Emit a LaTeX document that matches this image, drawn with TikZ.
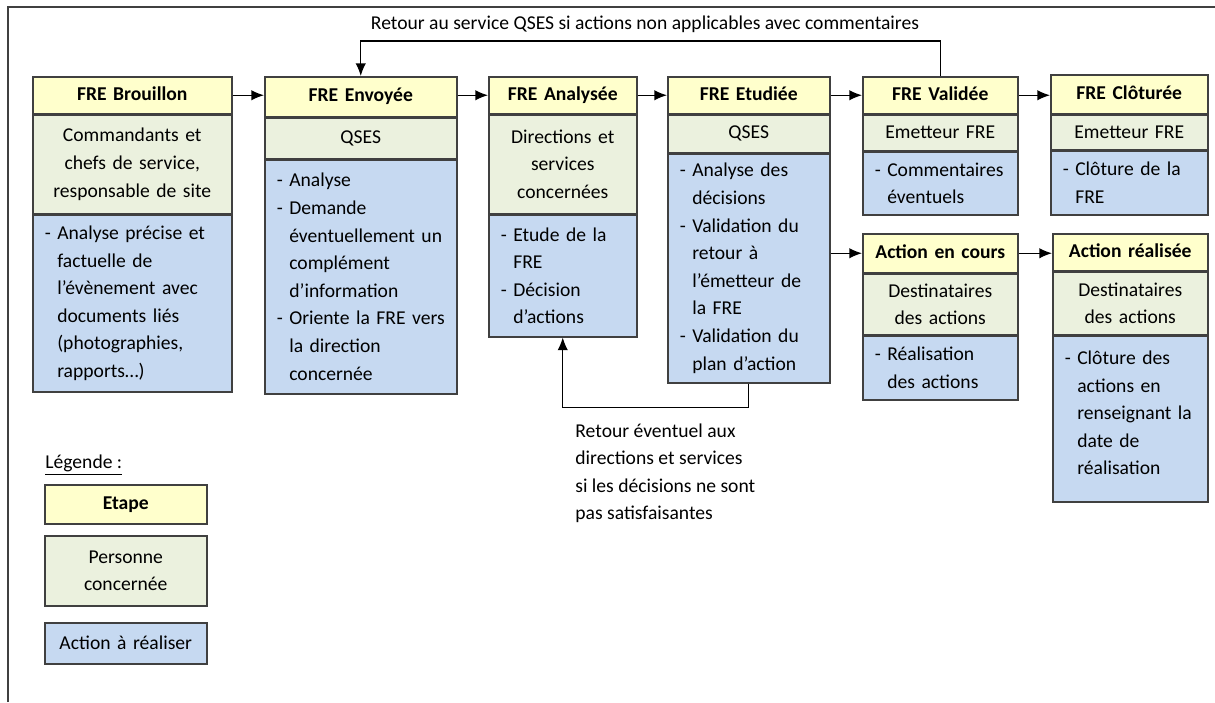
\documentclass[tikz,border=0pt]{standalone}
\usepackage{fontspec}
\setmainfont{Carlito}
\usepackage{tikz}
\usetikzlibrary{arrows.meta,positioning}
\definecolor{cetape}{RGB}{255,255,204}
\definecolor{cpers}{RGB}{235,241,222}
\definecolor{cact}{RGB}{198,217,241}
\definecolor{cbord}{RGB}{64,64,64}
\newcommand{\tiret}{-~}
\newcommand{\retrait}{\hphantom{-~}}

\begin{document}
\begin{tikzpicture}[
  x=0.5pt, y=-0.5pt,
  font=\fontsize{9.8}{13.8}\selectfont,
  boite/.style={draw=cbord, line width=0.75pt, inner xsep=6pt, inner ysep=2pt},
  etape/.style={boite, fill=cetape, font=\fontsize{9.8}{13.8}\selectfont\bfseries, align=center, text height=7pt, text depth=2.2pt},
  personne/.style={boite, fill=cpers, align=center},
  actionbox/.style={boite, fill=cact, align=left},
  fleche/.style={-{Latex[length=2.2mm,width=1.8mm]}, line width=0.6pt},
]
\useasboundingbox (0,0) rectangle (1215,702);
\draw[cbord, line width=1pt] (8,702) -- (8,7) -- (1215,7);

% FRE Brouillon
\node[etape, text width=87.5pt, minimum height=18.5pt, anchor=north west] (bro) at (32,76) {FRE Brouillon};
\node[personne, text width=87.5pt, minimum height=49pt, below=0pt of bro] (broP) {Commandants et\\chefs de service,\\responsable de site};
\node[actionbox, text width=87.5pt, minimum height=88.5pt, below=0pt of broP] (broA) {\tiret Analyse~précise~et\\\retrait factuelle~de\\\retrait l’évènement~avec\\\retrait documents~liés\\\retrait (photographies,\\\retrait rapports…)};

% FRE Envoyee
\node[etape, text width=84pt, minimum height=20pt, anchor=north west] (env) at (264,76) {FRE Envoyée};
\node[personne, text width=84pt, minimum height=20pt, below=0pt of env] (envP) {QSES};
\node[actionbox, text width=84pt, minimum height=117pt, below=0pt of envP] (envA) {\tiret Analyse\\\tiret Demande\\\retrait \mbox{éventuellement un}\\\retrait complément\\\retrait d’information\\\mbox{\tiret Oriente la FRE vers}\\\retrait la~direction\\\retrait concernée};

% FRE Analysee
\node[etape, text width=62pt, minimum height=18.5pt, anchor=north west] (ana) at (488,76) {FRE Analysée};
\node[personne, text width=62pt, minimum height=49pt, below=0pt of ana] (anaP) {Directions et\\services\\concernées};
\node[actionbox, text width=62pt, minimum height=61pt, below=0pt of anaP] (anaA) {\tiret Etude~de~la\\\retrait FRE\\\tiret Décision\\\retrait d’actions};

% FRE Etudiee
\node[etape, text width=69pt, minimum height=18.5pt, anchor=north west] (etu) at (667,76) {FRE Etudiée};
\node[personne, text width=69pt, minimum height=18.5pt, below=0pt of etu] (etuP) {QSES};
\node[actionbox, text width=69pt, minimum height=114.5pt, below=0pt of etuP] (etuA) {\tiret Analyse~des\\\retrait décisions\\\tiret Validation~du\\\retrait retour~à\\\retrait l’émetteur~de\\\retrait la~FRE\\\tiret Validation~du\\\retrait plan~d’action};

% FRE Validee
\node[etape, text width=65.5pt, minimum height=18.5pt, anchor=north west] (val) at (862,76) {FRE Validée};
\node[personne, text width=65.5pt, minimum height=17.5pt, below=0pt of val] (valP) {Emetteur FRE};
\node[actionbox, text width=65.5pt, minimum height=31.5pt, below=0pt of valP] (valA) {\tiret Commentaires\\\retrait éventuels};

% FRE Cloturee
\node[etape, text width=66.5pt, minimum height=19.5pt, anchor=north west] (clo) at (1050,74) {FRE Clôturée};
\node[personne, text width=66.5pt, minimum height=17pt, below=0pt of clo] (cloP) {Emetteur FRE};
\node[actionbox, text width=66.5pt, minimum height=32pt, below=0pt of cloP] (cloA) {\tiret Clôture~de~la\\\retrait FRE};

% Action en cours
\node[etape, text width=65.5pt, minimum height=19.5pt, anchor=north west] (cou) at (862,233) {Action en cours};
\node[personne, text width=65.5pt, minimum height=30pt, below=0pt of cou] (couP) {Destinataires\\des actions};
\node[actionbox, text width=65.5pt, minimum height=32pt, below=0pt of couP] (couA) {\tiret Réalisation\\\retrait des~actions};

% Action realisee
\node[etape, text width=65.5pt, minimum height=18.5pt, anchor=north west] (rea) at (1052,233) {Action réalisée};
\node[personne, text width=65.5pt, minimum height=31pt, below=0pt of rea] (reaP) {Destinataires\\des actions};
\node[actionbox, text width=65.5pt, minimum height=83pt, below=0pt of reaP] (reaA) {\tiret Clôture~des\\\retrait actions~en\\\retrait renseignant~la\\\retrait date~de\\\retrait réalisation\\[-8pt]\mbox{}};

% liaisons
\draw[fleche] (bro.east) -- (bro.east -| env.west);
\draw[fleche] (env.east |- ana.west) -- (ana.west);
\draw[fleche] (ana.east) -- (ana.east -| etu.west);
\draw[fleche] (etu.east) -- (etu.east -| val.west);
\draw[fleche] (val.east) -- (val.east -| clo.west);
\draw[fleche] (etuA.east |- cou.west) -- (cou.west);
\draw[fleche] (cou.east) -- (cou.east -| rea.west);

% retours
\node (retQ) at (645,24) {Retour au service QSES si actions non applicables avec commentaires};
\draw[fleche] (val.north) -- ++(0,-35) -| (env.north);
\draw[fleche] (etuA.south) -- ++(0,24) -| (anaA.south);
\node[anchor=north west, align=left, inner sep=0pt] (retD) at (575,423) {Retour éventuel aux\\directions et services\\si les décisions ne sont\\pas satisfaisantes};

% legende
\node[anchor=south west, inner sep=0pt] (leg) at (45,476) {\underline{Légende :}};
\node[etape, text width=69pt, minimum height=19.5pt, anchor=north west] (legE) at (44,484) {Etape};
\node[personne, text width=69pt, minimum height=35pt, anchor=north west] (legP) at (44,535) {Personne\\concernée};
\node[actionbox, align=center, text width=69pt, minimum height=20.5pt, anchor=north west] (legA) at (44,622) {Action à réaliser};
\end{tikzpicture}
\end{document}
